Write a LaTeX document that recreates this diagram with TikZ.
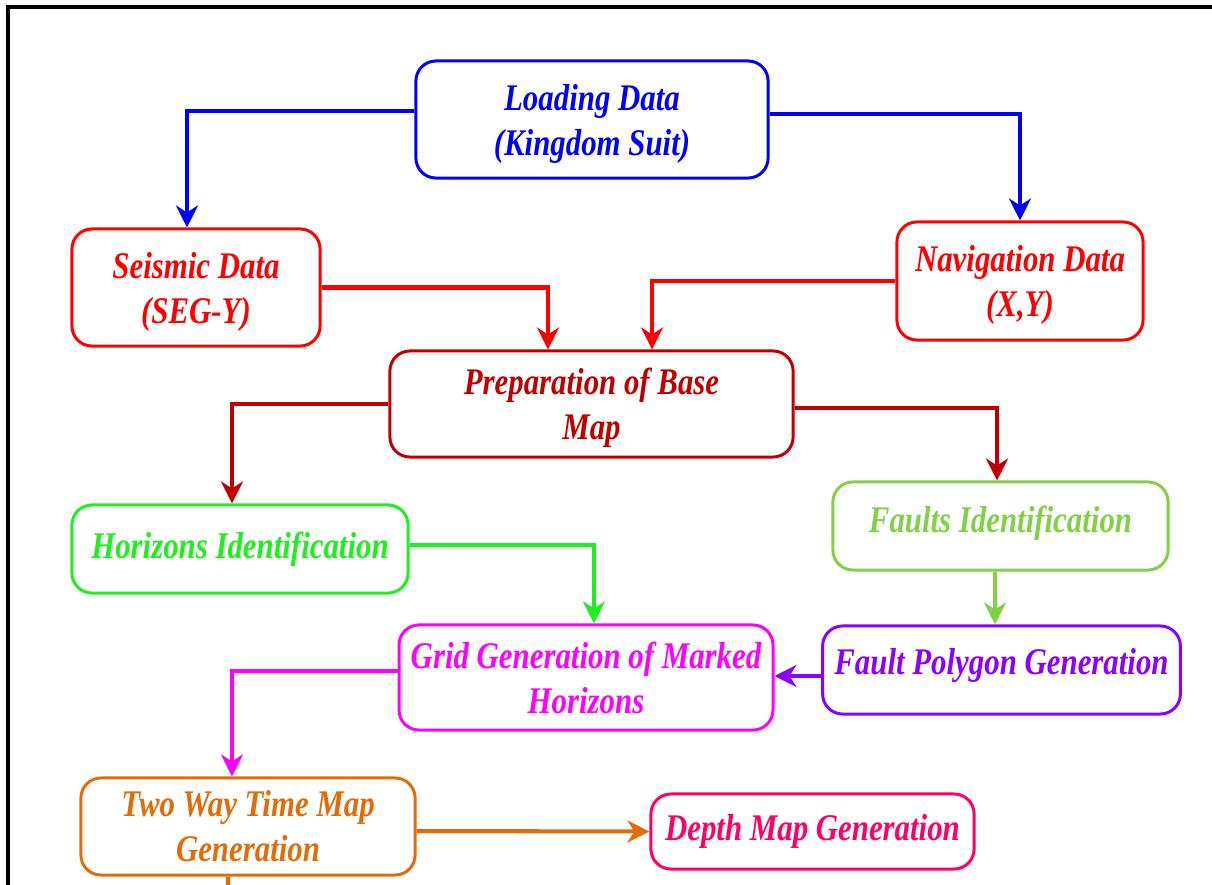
\documentclass[tikz,border=0pt]{standalone}
\usepackage{fontspec}
\setmainfont{Liberation Serif}[FakeStretch=0.82]
\usepackage{xcolor}
\usepackage{tikz}
\usetikzlibrary{arrows.meta,positioning}

\definecolor{loadblue}{RGB}{0,0,255}
\definecolor{datared}{RGB}{255,0,0}
\definecolor{basered}{RGB}{192,0,0}
\definecolor{horgreen}{RGB}{30,240,30}
\definecolor{fltgreen}{RGB}{130,208,70}
\definecolor{gridmag}{RGB}{255,0,255}
\definecolor{polyviolet}{RGB}{140,0,255}
\definecolor{twtorange}{RGB}{227,108,9}
\definecolor{depthpink}{RGB}{255,0,102}

\begin{document}
\begin{tikzpicture}[
        x=0.01cm, y=-0.01cm,
        font=\fontsize{10.7}{12.8}\selectfont\bfseries\itshape,
        flow/.style={-{Stealth[length=2.2mm, width=2.2mm, inset=0.7mm]},
            line width=1.15pt},
        stepbox/.style={draw, line width=0.85pt, rounded corners=0.2cm,
            align=center, fill=white},
        loadbox/.style={stepbox, draw=loadblue, text=loadblue},
        databox/.style={stepbox, draw=datared, text=datared},
        basebox/.style={stepbox, draw=basered, text=basered},
        horbox/.style={stepbox, draw=horgreen, text=horgreen},
        fltbox/.style={stepbox, draw=fltgreen, text=fltgreen},
        gridbox/.style={stepbox, draw=gridmag, text=gridmag},
        polybox/.style={stepbox, draw=polyviolet, text=polyviolet},
        twtbox/.style={stepbox, draw=twtorange, text=twtorange},
        depthbox/.style={stepbox, draw=depthpink, text=depthpink}
    ]
        \useasboundingbox (0,0) rectangle (1212,885);
        \clip (0,0) rectangle (1212,885);
        \draw[line width=0.9pt] (8,7) rectangle (1230,900);

        % Loading and the two data sets.
        \node[loadbox, minimum width=3.52cm, minimum height=1.17cm,
            text depth=0pt] (load) at (592,119.5) {Loading Data\\(Kingdom Suit)};
        \node[databox, minimum width=2.48cm, minimum height=1.17cm,
            text depth=0pt] (seis) at (196,287.5) {Seismic Data\\(SEG-Y)};
        \node[databox, minimum width=2.46cm, minimum height=1.18cm,
            text depth=0pt] (nav) at (1020,281) {Navigation Data\\(X,Y)};
        \draw[flow, loadblue] ([yshift=0.085cm]load.west)
            -| ([xshift=-0.09cm]seis.north);
        \draw[flow, loadblue] ([yshift=0.055cm]load.east) -| (nav.north);

        % Base map.
        \node[basebox, minimum width=4.03cm, minimum height=1.06cm,
            text depth=0pt] (prep) at (591.5,404) {Preparation of Base\\Map};
        \draw[flow, datared] (seis.east) -| ([xshift=-0.435cm]prep.north);
        \draw[flow, datared] (nav.west) -| ([xshift=0.605cm]prep.north);

        % Identification of horizons and faults.
        \node[horbox, minimum width=3.36cm, minimum height=0.88cm,
            text depth=0.08cm] (hor) at (240,549) {Horizons Identification};
        \node[fltbox, minimum width=3.35cm, minimum height=0.88cm,
            text depth=0.14cm] (flt) at (1000.5,526) {Faults Identification};
        \draw[flow, basered] (prep.west) -| ([xshift=-0.08cm]hor.north);
        \draw[flow, basered] ([yshift=-0.04cm]prep.east)
            -| ([xshift=-0.035cm]flt.north);

        % Grids and fault polygons.
        \node[gridbox, minimum width=3.68cm, minimum height=1.05cm] (grid)
            at (586,677.5) {Grid Generation of Marked\\Horizons};
        \node[polybox, minimum width=3.49cm, minimum height=0.88cm,
            text depth=0.17cm] (poly) at (1001.5,670) {Fault Polygon Generation};
        \draw[flow, horgreen] ([yshift=0.04cm]hor.east)
            -| ([xshift=0.08cm]grid.north);
        \draw[flow, fltgreen] ([xshift=-0.055cm]flt.south)
            -- ([xshift=-0.055cm]flt.south |- poly.north);
        \draw[flow, polyviolet] ([yshift=-0.06cm]poly.west)
            -- ([yshift=-0.06cm]poly.west -| grid.east);

        % Time and depth maps.
        \node[twtbox, minimum width=3.34cm, minimum height=0.97cm] (twt)
            at (248,826.5) {Two Way Time Map\\Generation};
        \node[depthbox, minimum width=3.23cm, minimum height=0.75cm] (depth)
            at (812.5,831.5) {Depth Map Generation};
        \coordinate (twtout) at (228,900);
        \draw[flow, gridmag] ([yshift=0.065cm]grid.west)
            -| ([xshift=-0.16cm]twt.north);
        \draw[flow, twtorange] ([yshift=-0.045cm]twt.east) -- (depth.west);
        \draw[line width=1.15pt, twtorange] ([xshift=-0.2cm]twt.south)
            -- (twtout);
    \end{tikzpicture}
\end{document}
